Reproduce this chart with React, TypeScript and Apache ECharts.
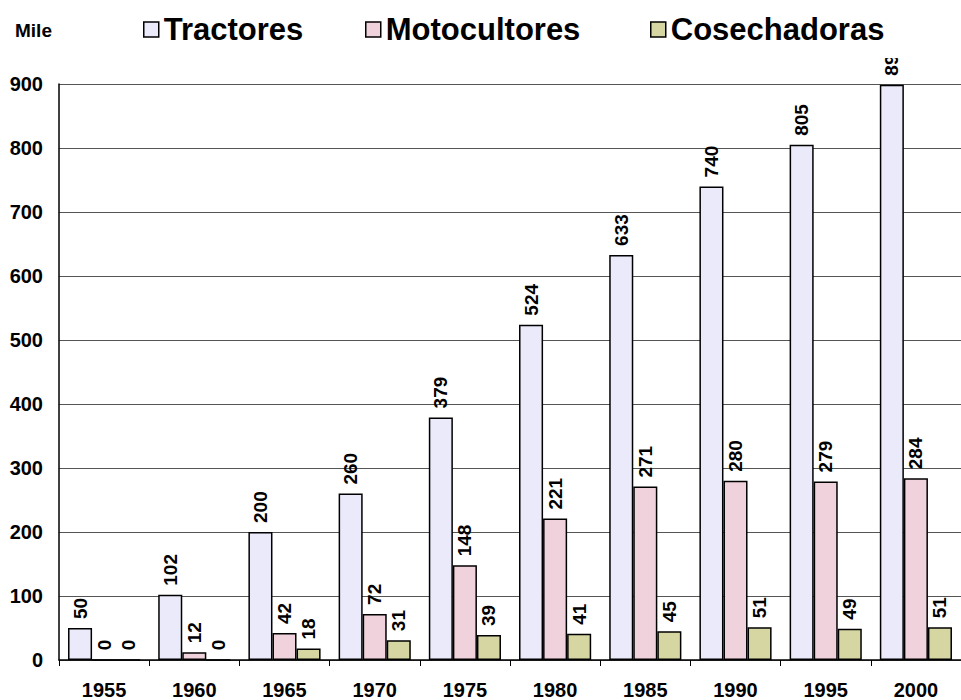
import React, { useEffect, useRef } from "react";
import * as echarts from "echarts";

const years = ["1955", "1960", "1965", "1970", "1975", "1980", "1985", "1990", "1995", "2000"];
const tractores = [50, 102, 200, 260, 379, 524, 633, 740, 805, 899];
const motocultores = [0, 12, 42, 72, 148, 221, 271, 280, 279, 284];
const cosechadoras = [0, 0, 18, 31, 39, 41, 45, 51, 49, 51];
const seriesNames = ["Tractores", "Motocultores", "Cosechadoras"];
const colors = ["#EAEAFB", "#F0D2DC", "#D6D6A2"];

export default function App() {
  const ref = useRef<HTMLDivElement>(null);
  useEffect(() => {
    if (!ref.current) return;
    const chart = echarts.init(ref.current, undefined, { renderer: "svg" });
    const font = "Arial, 'Liberation Sans', sans-serif";
    const label = {
      show: true,
      position: "top",
      rotate: 90,
      align: "left",
      verticalAlign: "middle",
      distance: 9,
      fontFamily: font,
      fontWeight: "bold",
      fontSize: 19,
      color: "#000",
    };
    const datas = [tractores, motocultores, cosechadoras];
    const legendLefts = [138, 360, 645];
    chart.setOption({
      animation: false,
      backgroundColor: "#fff",
      textStyle: { fontFamily: font },
      legend: seriesNames.map((n, i) => ({
        top: 9,
        left: legendLefts[i],
        itemWidth: 15,
        itemHeight: 15,
        icon: "rect",
        itemStyle: { borderColor: "#000", borderWidth: 1.5 },
        textStyle: { fontSize: 31, fontWeight: "bold", color: "#000", fontFamily: font },
        data: [n],
        z: 10,
      })),
      graphic: [
        {
          type: "text",
          left: 15,
          top: 21,
          style: { text: "Mile", font: "bold 19px Arial, 'Liberation Sans', sans-serif", fill: "#000" },
        },
        {
          type: "rect",
          z: 5,
          shape: { x: 860, y: 0, width: 101, height: 58 },
          style: { fill: "#fff" },
        },
      ],
      grid: { left: 59, right: 0, top: 84, bottom: 40, containLabel: false },
      xAxis: {
        type: "category",
        data: years,
        axisLine: { lineStyle: { color: "#000", width: 1.5 } },
        axisTick: { show: true, length: 6, lineStyle: { color: "#000" } },
        axisLabel: { color: "#000", fontWeight: "bold", fontSize: 20, margin: 20, fontFamily: font },
      },
      yAxis: {
        type: "value",
        min: 0,
        max: 900,
        interval: 100,
        axisLine: { show: true, lineStyle: { color: "#000", width: 1.5 } },
        axisTick: { show: false },
        splitLine: { lineStyle: { color: "#555", width: 1 } },
        axisLabel: { color: "#000", fontWeight: "bold", fontSize: 20, margin: 16, fontFamily: font },
      },
      series: seriesNames.map((name, i) => ({
        name,
        type: "bar",
        data: datas[i],
        barGap: "0%",
        barCategoryGap: "20%",
        itemStyle: { color: colors[i], borderColor: "#000", borderWidth: 1.5 },
        label,
        z: 2,
      })),
    });
    return () => chart.dispose();
  }, []);
  return <div ref={ref} style={{ width: 961, height: 700, position: "absolute", left: 0, top: 0 }} />;
}
